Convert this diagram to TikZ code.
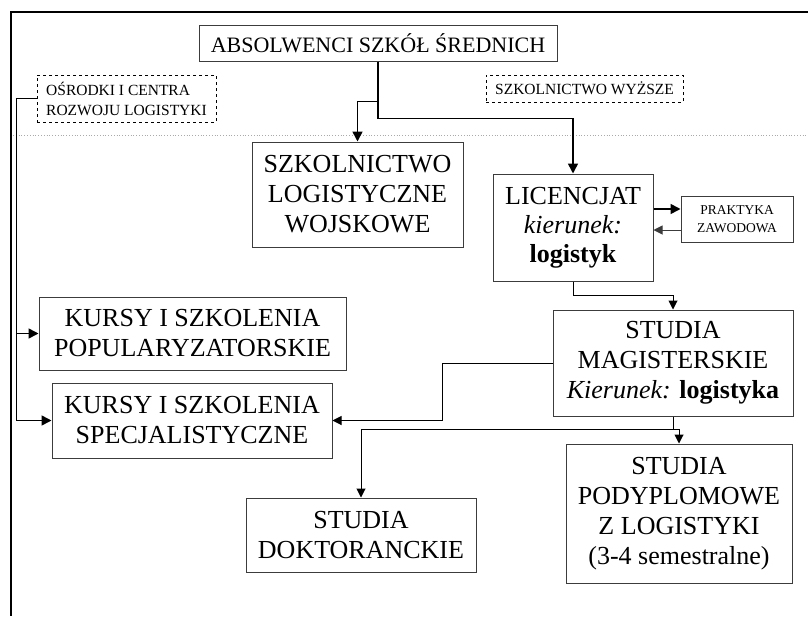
\documentclass[tikz,border=0pt]{standalone}
\usepackage{fontspec}
\setmainfont{Liberation Serif}
\usepackage{tikz}
\usetikzlibrary{arrows.meta,positioning}
\usepackage{xcolor}
\definecolor{boxgray}{RGB}{60,60,60}
\definecolor{dotgray}{RGB}{170,170,170}
\tikzstyle{box} = [rectangle, draw=boxgray, line width=1pt, inner sep=0pt, text centered, align=center, font=\fontsize{26}{30}\selectfont]
\tikzstyle{label} = [rectangle, draw=black, dashed, line width=0.9pt, inner sep=0pt, text centered, align=center, font=\fontsize{15.5}{20}\selectfont]
\tikzstyle{arrow} = [line width=1.6pt, -{Triangle[length=10pt,width=10pt]}]
\tikzstyle{thinarrow} = [line width=1pt, -{Triangle[length=9pt,width=9pt]}]

\begin{document}
\begin{tikzpicture}[x=1pt, y=-1pt]
\useasboundingbox (0,0) rectangle (808,616);
% Frame and separator
\draw[line width=2.2pt] (808,12) -- (11,12) -- (11,616);
\draw[dotgray, dotted, line width=0.8pt] (13,135) -- (808,135);

% Top level
\node (absolwenci) [box, minimum width=358pt, minimum height=36pt, font=\fontsize{22}{26}\selectfont] at (378,43) {ABSOLWENCI SZKÓŁ ŚREDNICH};
\node (osrodki) [label, align=left, minimum width=179pt, minimum height=47pt] at (126.5,98.5) {OŚRODKI I CENTRA\\ROZWOJU LOGISTYKI};
\node (wyzsze) [label, minimum width=197pt, minimum height=27pt] at (584.5,88.5) {SZKOLNICTWO WYŻSZE};

% Schools and studies
\node (wojskowe) [box, minimum width=211pt, minimum height=105pt] at (357.5,194.5) {SZKOLNICTWO\\LOGISTYCZNE\\WOJSKOWE};
\node (licencjat) [box, minimum width=160pt, minimum height=107pt, font=\fontsize{26}{29}\selectfont] at (573,227.5) {LICENCJAT\\\textit{kierunek:}\\\textbf{logistyk}};
\node (praktyka) [box, minimum width=112pt, minimum height=46pt, font=\fontsize{13.5}{18}\selectfont] at (737,219) {PRAKTYKA\\ZAWODOWA};
\node (magister) [box, minimum width=240pt, minimum height=106pt] at (673,363) {STUDIA\\MAGISTERSKIE\\\textit{Kierunek:} \textbf{logistyka}};
\node (doktor) [box, minimum width=230pt, minimum height=74pt] at (361,535) {STUDIA\\DOKTORANCKIE};
\node (podyplom) [box, minimum width=226pt, minimum height=139pt] at (679,513.5) {STUDIA\\PODYPLOMOWE\\Z LOGISTYKI\\(3-4 semestralne)};

% Courses
\node (popular) [box, minimum width=307pt, minimum height=73pt] at (192.5,333.5) {KURSY I SZKOLENIA\\POPULARYZATORSKIE};
\node (specjal) [box, minimum width=280pt, minimum height=75pt] at (192,420.5) {KURSY I SZKOLENIA\\SPECJALISTYCZNE};

% Connectors from the top
\draw[arrow] (absolwenci.south) -- ++(0,40) -| (wojskowe.north);
\draw[arrow] (absolwenci.south) -- ++(0,57) -| (licencjat.north);
\draw[thinarrow] (licencjat.south) -- ++(0,14) -| (magister.north);

% Practice
\coordinate (p1) at ([yshift=10pt]praktyka.west);
\coordinate (p2) at ([yshift=-11pt]praktyka.west);
\draw[arrow] (licencjat.east |- p1) -- (p1);
\draw[thinarrow, boxgray] (p2) -- (licencjat.east |- p2);

% From master studies
\draw[thinarrow] (magister.west) -- ++(-110,0) |- (specjal.east);
\draw[line width=1pt] (magister.south) -- ++(0,13) coordinate (split);
\draw[thinarrow] (split) -| (podyplom.north);
\draw[thinarrow] (split) -| (doktor.north);

% From centres to courses
\draw[arrow] (osrodki.west) -- ++(-20,0) coordinate (o1) |- (specjal.west);
\draw[arrow] (o1 |- popular.west) -- (popular.west);
\end{tikzpicture}
\end{document}
